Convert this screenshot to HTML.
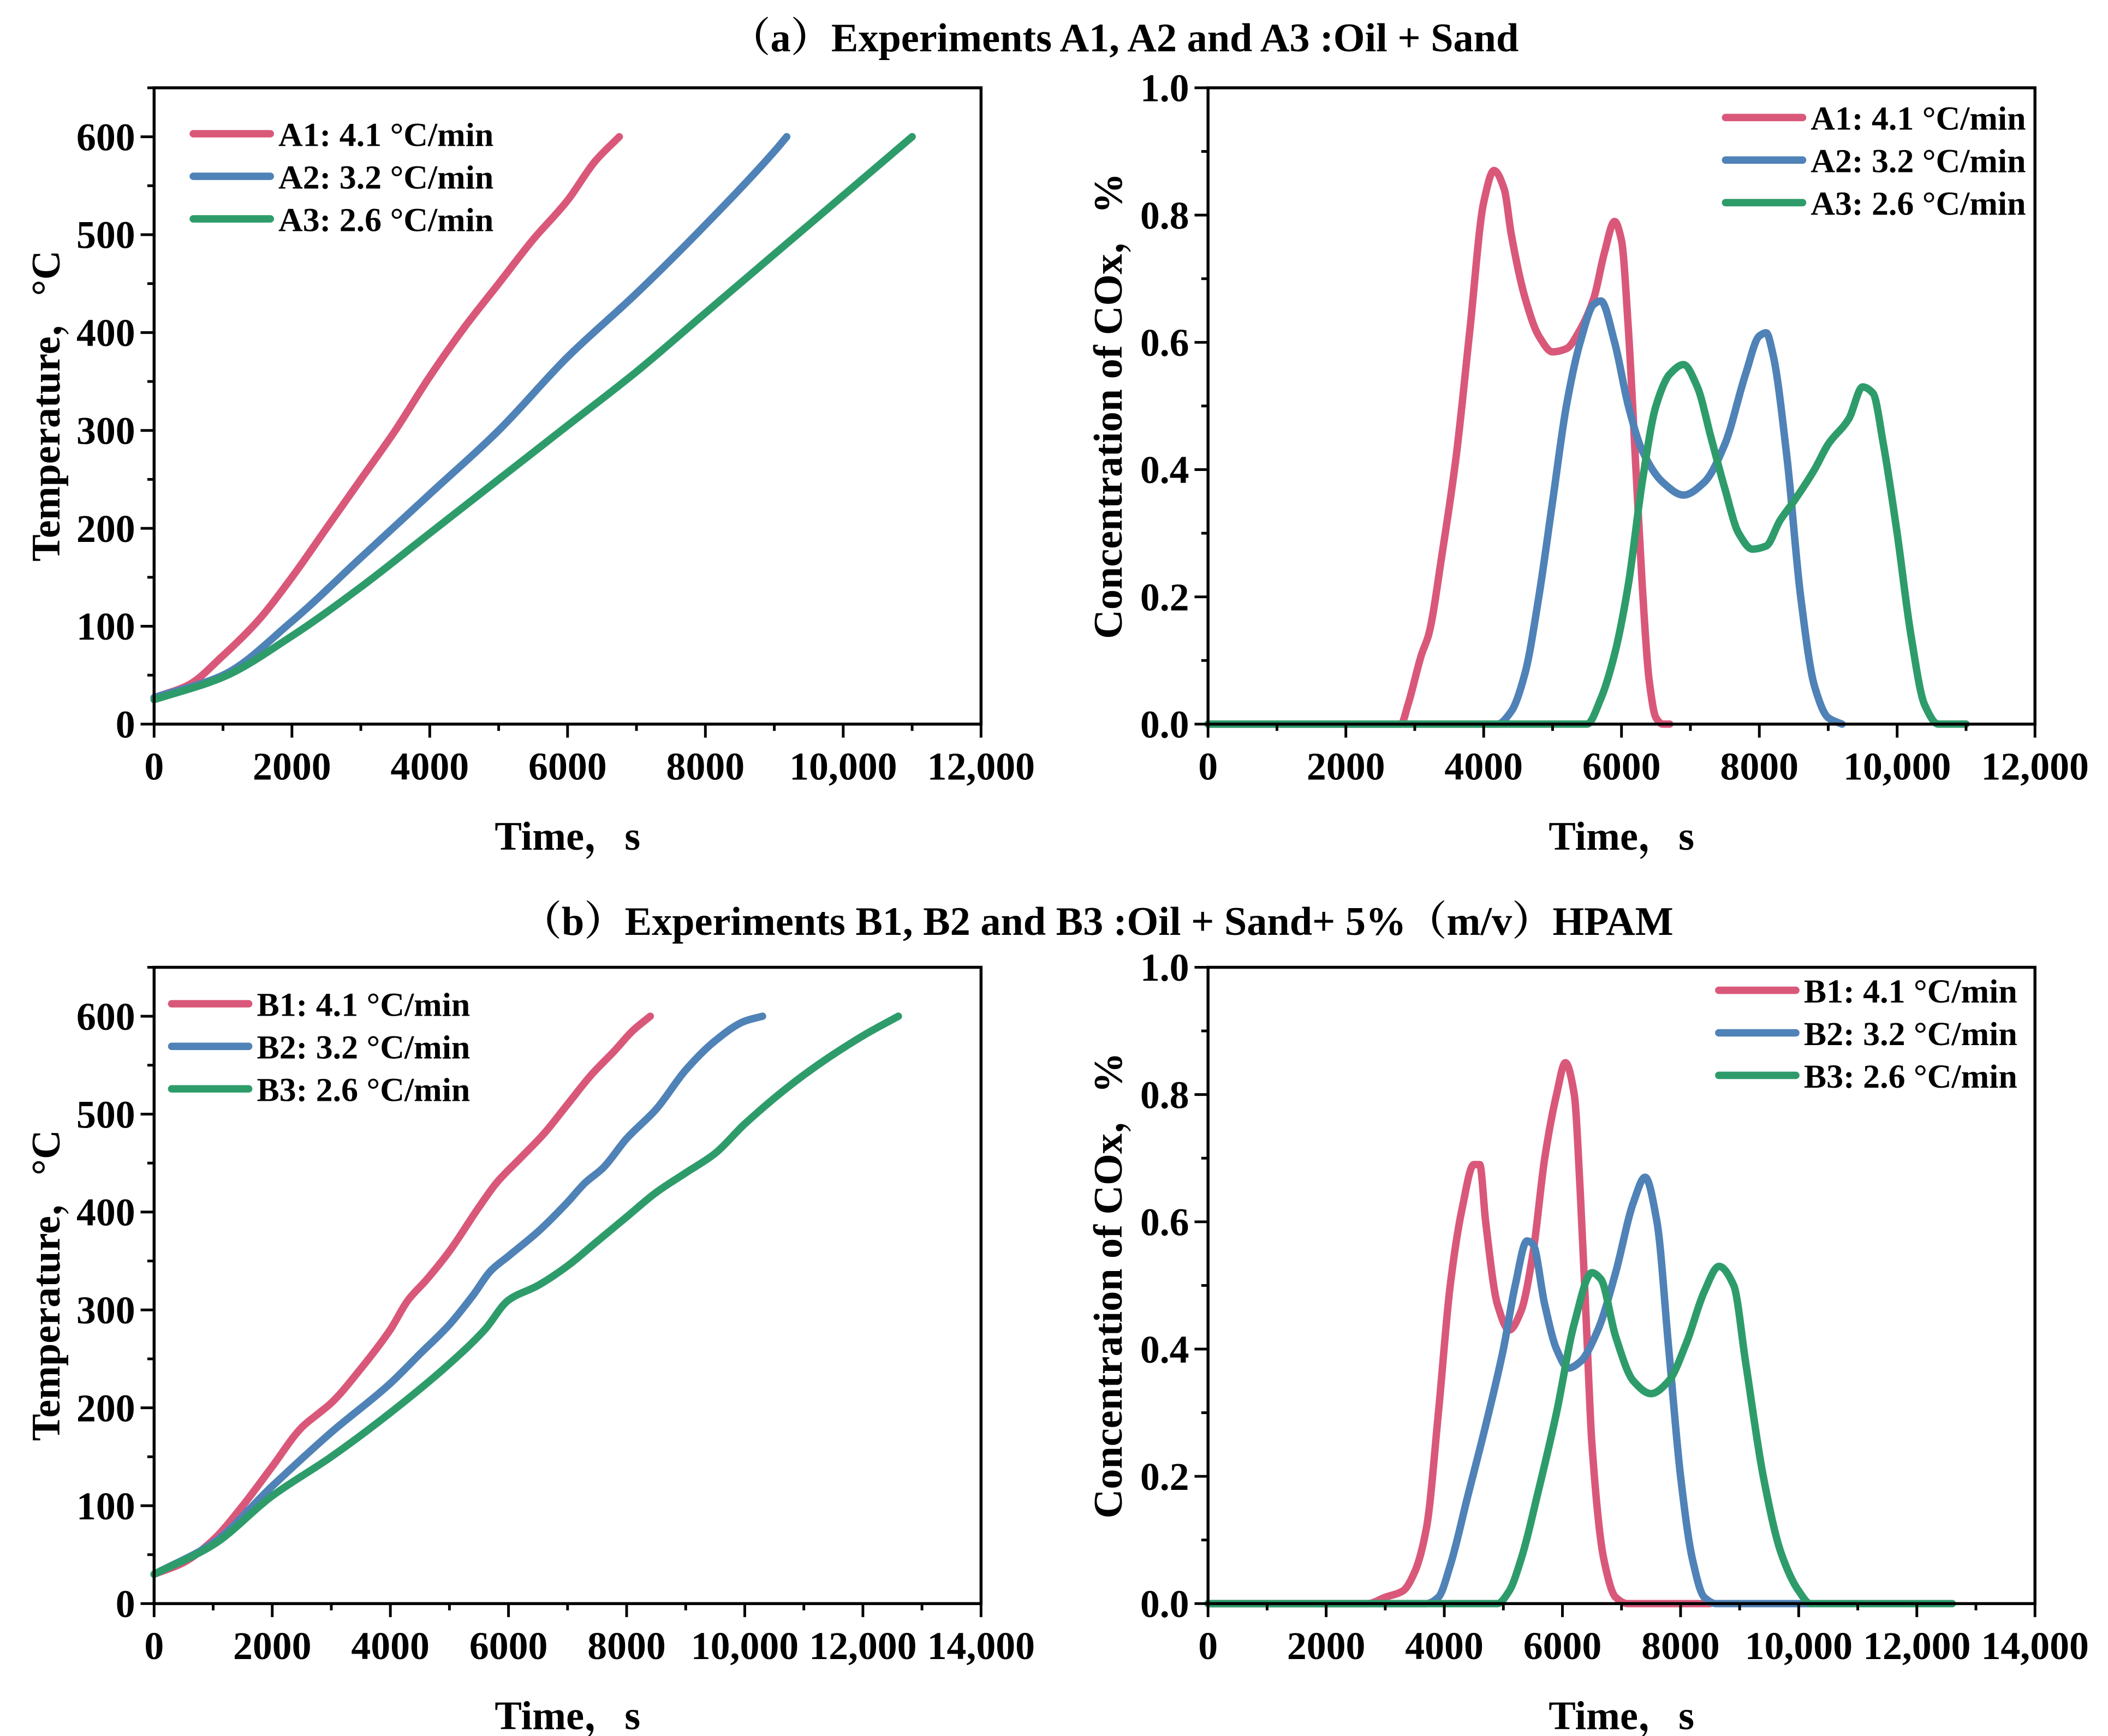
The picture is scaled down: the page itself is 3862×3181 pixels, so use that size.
<!DOCTYPE html>
<html><head><meta charset="utf-8"><style>
html,body{margin:0;padding:0;background:#fff}
svg{display:block}
text{font-family:"Liberation Serif","Noto Serif CJK SC",serif;font-weight:bold;fill:#000}
</style></head><body>
<svg id="fig" xmlns="http://www.w3.org/2000/svg" width="3862" height="3181" viewBox="0 0 1560 1285">
<rect width="1560" height="1285" fill="#fff"/>
<text x="832" y="38" font-size="30" text-anchor="middle">（a）Experiments A1, A2 and A3 :Oil + Sand</text>
<text x="812" y="692" font-size="30" text-anchor="middle">（b）Experiments B1, B2 and B3 :Oil + Sand+ 5%（m/v）HPAM</text>
<g id="plots"></g>
</svg>
<script>
const colors=['#d9587a','#4f82b7','#2e9c6a'];
// Panel A temperature
const a1TempT=[0,500,1000,1500,2000,2500,3000,3500,4000,4500,5000,5500,6000,6400,6750];
const a1TempV=[27,40,70,105,150,200,250,300,355,405,450,495,535,575,600];
const a2TempT=[0,1000,2000,3000,4000,5000,6000,7000,8000,9000,9180];
const a2TempV=[27,50,105,170,235,300,375,440,510,585,600];
const a3TempT=[0,1000,2000,3000,4000,5000,6000,7000,8000,9000,10000,11000];
const a3TempV=[25,48,90,140,195,250,305,360,420,480,540,600];
// Panel A COx
const a1CoxT=[0,2800,2900,3100,3200,3400,3600,3800,4000,4150,4300,4400,4600,4800,5000,5200,5400,5600,5750,5900,6000,6100,6200,6300,6400,6500,6600,6700];
const a1CoxV=[0,0,0.03,0.11,0.14,0.27,0.42,0.62,0.82,0.87,0.84,0.77,0.67,0.61,0.585,0.59,0.62,0.67,0.74,0.79,0.76,0.62,0.42,0.22,0.07,0.01,0,0];
const a2CoxT=[0,4200,4400,4600,4800,5000,5200,5400,5600,5700,5900,6100,6300,6600,6900,7200,7500,7800,8000,8100,8200,8400,8600,8800,9000,9200];
const a2CoxV=[0,0,0.02,0.08,0.2,0.35,0.5,0.6,0.66,0.665,0.6,0.5,0.43,0.38,0.36,0.38,0.44,0.55,0.61,0.615,0.58,0.42,0.2,0.06,0.01,0];
const a3CoxT=[0,5500,5700,5900,6100,6300,6500,6700,6900,7100,7300,7500,7700,7900,8100,8300,8500,8800,9000,9300,9500,9650,9800,10000,10200,10400,10600,11000];
const a3CoxV=[0,0,0.04,0.11,0.22,0.38,0.5,0.55,0.565,0.53,0.45,0.37,0.3,0.275,0.28,0.32,0.35,0.4,0.44,0.48,0.53,0.52,0.44,0.3,0.14,0.03,0,0];
// Panel B temperature
const b1TempT=[0,500,1000,1500,2000,2500,2800,3000,3500,4000,4300,4600,5000,5500,5800,6200,6600,7000,7400,7800,8100,8400];
const b1TempV=[30,42,65,100,140,180,195,205,240,280,310,330,360,405,430,455,480,510,540,565,585,600];
const b2TempT=[0,1000,2000,3000,4000,4500,5000,5400,5700,6000,6500,7000,7300,7600,8000,8500,9000,9500,10000,10300];
const b2TempV=[30,62,120,175,225,255,285,315,340,355,380,410,430,445,475,505,545,575,595,600];
const b3TempT=[0,1000,2000,3000,4000,5000,5600,6000,6500,7000,7500,8000,8500,9000,9500,10000,11000,12000,12600];
const b3TempV=[30,60,110,150,195,245,280,310,325,345,370,395,420,440,460,490,540,580,600];
// Panel B COx
const b1CoxT=[0,2700,3000,3300,3500,3700,3900,4100,4300,4500,4600,4700,4900,5100,5300,5500,5700,5900,6050,6200,6300,6400,6500,6700,6900,7100,8500];
const b1CoxV=[0,0,0.01,0.02,0.05,0.12,0.3,0.5,0.62,0.69,0.69,0.6,0.47,0.43,0.46,0.55,0.7,0.8,0.85,0.8,0.65,0.45,0.25,0.07,0.01,0,0];
const b2CoxT=[0,3700,3900,4100,4400,4700,5000,5200,5400,5500,5700,5900,6100,6300,6600,6900,7200,7400,7600,7800,8000,8200,8400,8600,10200];
const b2CoxV=[0,0,0.01,0.06,0.17,0.28,0.4,0.5,0.57,0.565,0.47,0.4,0.37,0.38,0.43,0.52,0.63,0.67,0.6,0.4,0.2,0.07,0.01,0,0];
const b3CoxT=[0,4900,5100,5300,5600,5900,6200,6500,6650,6900,7200,7500,7800,8100,8400,8650,8900,9100,9400,9700,10000,10200,12600];
const b3CoxV=[0,0,0.02,0.07,0.18,0.3,0.44,0.52,0.51,0.42,0.35,0.33,0.35,0.41,0.49,0.53,0.5,0.38,0.2,0.08,0.02,0,0];

const legA=['A1: 4.1 °C/min','A2: 3.2 °C/min','A3: 2.6 °C/min'];
const legB=['B1: 4.1 °C/min','B2: 3.2 °C/min','B3: 2.6 °C/min'];
const NS='http://www.w3.org/2000/svg';
const root=document.getElementById('plots');
function mk(tag,attrs,parent){const e=document.createElementNS(NS,tag);for(const k in attrs)e.setAttribute(k,attrs[k]);(parent||root).appendChild(e);return e;}
function fmt(v){return v>=10000?String(v).replace(/(\d+)(\d{3})$/,'$1,$2'):String(v);}
// monotone cubic (Fritsch-Carlson) path in pixel space; x strictly increasing
function smooth(pts){
  const n=pts.length;
  if(n<3){return 'M'+pts.map(p=>p[0].toFixed(2)+','+p[1].toFixed(2)).join('L');}
  const dx=[],m=[];
  for(let i=0;i<n-1;i++){dx.push(pts[i+1][0]-pts[i][0]);m.push((pts[i+1][1]-pts[i][1])/dx[i]);}
  const t=new Array(n);
  t[0]=m[0];t[n-1]=m[n-2];
  for(let i=1;i<n-1;i++){
    if(m[i-1]*m[i]<=0)t[i]=0;
    else{const w1=2*dx[i]+dx[i-1],w2=dx[i]+2*dx[i-1];t[i]=(w1+w2)/(w1/m[i-1]+w2/m[i]);}
  }
  let d='M'+pts[0][0].toFixed(2)+','+pts[0][1].toFixed(2);
  for(let i=0;i<n-1;i++){
    const h=dx[i]/3;
    d+='C'+(pts[i][0]+h).toFixed(2)+','+(pts[i][1]+t[i]*h).toFixed(2)+' '+(pts[i+1][0]-h).toFixed(2)+','+(pts[i+1][1]-t[i+1]*h).toFixed(2)+' '+pts[i+1][0].toFixed(2)+','+pts[i+1][1].toFixed(2);
  }
  return d;
}

function panel(p){
  const g=mk('g',{});
  
  
  const sx=v=>p.x0+(v/p.xmax)*(p.x1-p.x0);
  const sy=v=>p.y1-(v/p.ymax)*(p.y1-p.y0);
  p.series.forEach((s,i)=>{
    const pts=s.t.map((t,j)=>[sx(t),sy(s.v[j])]);
    const path=mk('path',{d:smooth(pts),fill:'none',stroke:colors[i],'stroke-width':5.5,'stroke-linejoin':'round','stroke-linecap':'round'},g);
    
    
  });
  const frame=mk('rect',{x:p.x0,y:p.y0,width:p.x1-p.x0,height:p.y1-p.y0,fill:'none',stroke:'#000','stroke-width':2.2},g);
  
  
  for(let v=0;v<=p.xmax;v+=1000){
    const major=v%2000===0;
    mk('line',{x1:sx(v),x2:sx(v),y1:p.y1,y2:p.y1+(major?10:5),stroke:'#000','stroke-width':2},g);
    if(major){
      const t=mk('text',{x:sx(v),y:p.y1+41,'font-size':29,'text-anchor':'middle'},g);
      t.textContent=fmt(v);
      
      
    }
  }
  const n=Math.round(p.ymax/p.ystep*2);
  for(let k=0;k<=n;k++){
    const v=k*p.ystep/2; const major=k%2===0;
    mk('line',{x1:p.x0,x2:p.x0-(major?10:5),y1:sy(v),y2:sy(v),stroke:'#000','stroke-width':2},g);
    if(major && (p.ylabmax===undefined||v<=p.ylabmax)){
      const t=mk('text',{x:p.x0-14,y:sy(v)+10,'font-size':29,'text-anchor':'end'},g);
      t.textContent=p.ydec?v.toFixed(1):String(v);
      
      
    }
  }
  const xt=mk('text',{x:(p.x0+p.x1)/2,y:p.y1+93,'font-size':30,'text-anchor':'middle'},g);
  xt.textContent='Time，s';
  
  
  const yt=mk('text',{x:0,y:0,'font-size':30,'text-anchor':'middle',transform:`translate(${p.ytx},${(p.y0+p.y1)/2}) rotate(-90)`},g);
  yt.textContent=p.ytitle;
  
  
  p.series.forEach((s,i)=>{
    const ly=p.ly+i*31.5;
    const le=mk('g',{},g);
    
    
    mk('line',{x1:p.lx,x2:p.lx+57,y1:ly,y2:ly,stroke:colors[i],'stroke-width':5.5,'stroke-linecap':'round'},le);
    const t=mk('text',{x:p.lx+63,y:ly+9,'font-size':25},le);
    t.textContent=s.label;
  });
}
panel({name:'panel-a-temperature',x0:114,x1:726,y0:65,y1:536,xmax:12000,ymax:650,ystep:100,ylabmax:600,ytx:44,ytitle:'Temperature，°C',lx:143,ly:99,
  series:[{t:a1TempT,v:a1TempV,label:legA[0]},{t:a2TempT,v:a2TempV,label:legA[1]},{t:a3TempT,v:a3TempV,label:legA[2]}]});
panel({name:'panel-a-cox',x0:894,x1:1506,y0:65,y1:536,xmax:12000,ymax:1.0,ystep:0.2,ydec:true,ytx:830,ytitle:'Concentration of COx，%',lx:1277,ly:87,
  series:[{t:a1CoxT,v:a1CoxV,label:legA[0]},{t:a2CoxT,v:a2CoxV,label:legA[1]},{t:a3CoxT,v:a3CoxV,label:legA[2]}]});
panel({name:'panel-b-temperature',x0:114,x1:726,y0:716,y1:1187,xmax:14000,ymax:650,ystep:100,ylabmax:600,ytx:44,ytitle:'Temperature，°C',lx:127,ly:743,
  series:[{t:b1TempT,v:b1TempV,label:legB[0]},{t:b2TempT,v:b2TempV,label:legB[1]},{t:b3TempT,v:b3TempV,label:legB[2]}]});
panel({name:'panel-b-cox',x0:894,x1:1506,y0:716,y1:1187,xmax:14000,ymax:1.0,ystep:0.2,ydec:true,ytx:830,ytitle:'Concentration of COx，%',lx:1272,ly:733,
  series:[{t:b1CoxT,v:b1CoxV,label:legB[0]},{t:b2CoxT,v:b2CoxV,label:legB[1]},{t:b3CoxT,v:b3CoxV,label:legB[2]}]});
</script>
</body></html>
